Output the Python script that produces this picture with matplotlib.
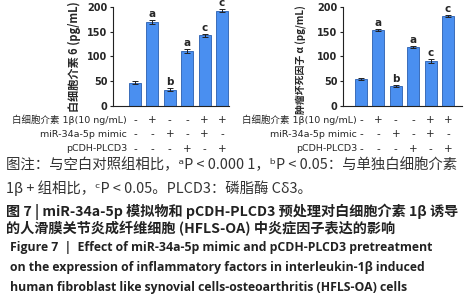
import matplotlib
matplotlib.use("Agg")
import matplotlib.pyplot as plt
from matplotlib.transforms import blended_transform_factory

plt.rcParams['font.family'] = ['Noto Sans CJK SC', 'DejaVu Sans']

# Data
il6 = [47, 170, 33, 111, 143, 192]
il6_err = [3, 4, 3, 4, 3, 3]
il6_sig = ['', 'a', 'b', 'a', 'c', 'c']
tnf = [55, 153, 41, 120, 90, 181]
tnf_err = [2, 2, 2, 2, 4, 2]
tnf_sig = ['', 'a', 'b', 'a', 'c', 'c']
yticks = [0, 50, 100, 150, 200]
row_labels = ['白细胞介素 1β(10 ng/mL)', 'miR-34a-5p mimic', 'pCDH-PLCD3']
row_signs = [
    ['-', '+', '-', '-', '+', '+'],
    ['-', '-', '+', '-', '+', '-'],
    ['-', '-', '-', '+', '-', '+'],
]
ylabels = ['白细胞介素 6 (pg/mL)', '肿瘤坏死因子 α (pg/mL)']
caption = [
    ('图注：与空白对照组相比，ᵃP < 0.000 1，ᵇP < 0.05：与单独白细胞介素', 'normal', 10.4),
    ('1β + 组相比，ᶜP < 0.05。PLCD3：磷脂酶 Cδ3。', 'normal', 10.4),
    ('图 7 | miR-34a-5p 模拟物和 pCDH-PLCD3 预处理对白细胞介素 1β 诱导', 'bold', 10.2),
    ('的人滑膜关节炎成纤维细胞 (HFLS-OA) 中炎症因子表达的影响', 'bold', 10.2),
]
caption_en = [
    'Figure 7  |  Effect of miR-34a-5p mimic and pCDH-PLCD3 pretreatment',
    'on the expression of inflammatory factors in interleukin-1β induced',
    'human fibroblast like synovial cells-osteoarthritis (HFLS-OA) cells',
]

W, H = 470, 300
fig = plt.figure(figsize=(W / 100, H / 100), dpi=100)
fig.patch.set_facecolor('white')

def px(x0, ytop, x1, ybot):
    return [x0 / W, 1 - ybot / H, (x1 - x0) / W, (ybot - ytop) / H]

panels = [
    (px(113, 7, 229, 106), il6, il6_err, il6_sig, ylabels[0], 8.0, 0.5, (-1.26, 5.4), 127),
    (px(343, 7, 462, 106), tnf, tnf_err, tnf_sig, ylabels[1], 7.1, 0.47, (-1.03, 5.8), 357),
]

bar_color = '#4a8ff0'
edge_color = '#2a5fb0'
txt_color = '#262626'
for rect, vals, errs, sigs, ylab, ylfs, ylpos, xl, lab_x in panels:
    ax = fig.add_axes(rect)
    x = list(range(len(vals)))
    ax.bar(x, vals, width=0.68, color=bar_color, edgecolor=edge_color, linewidth=0.6,
           yerr=errs, error_kw=dict(ecolor='#222222', elinewidth=0.7, capsize=2, capthick=0.7))
    for xi, v, e, s in zip(x, vals, errs, sigs):
        if s:
            ax.text(xi, v + e + 2, s, ha='center', va='bottom', fontsize=7.5, fontweight='bold',
                    family='DejaVu Sans', color=txt_color)
    ax.set_xlim(*xl)
    ax.set_ylim(0, 200)
    ax.set_yticks(yticks)
    ax.set_yticklabels([str(t) for t in yticks], fontsize=7, fontweight='bold',
                       family='DejaVu Sans', color=txt_color)
    ax.set_xticks([])
    for sp in ['top', 'right']:
        ax.spines[sp].set_visible(False)
    for sp in ['left', 'bottom']:
        ax.spines[sp].set_linewidth(0.8)
        ax.spines[sp].set_color('#222222')
    ax.tick_params(axis='y', length=2.5, width=0.8, pad=1.5, color='#222222')
    ax.set_ylabel(ylab, fontsize=ylfs, fontweight='bold', labelpad=2, color=txt_color)
    ax.yaxis.set_label_coords(-0.28 if ylfs > 7.5 else -0.30, ylpos)
    tr = blended_transform_factory(ax.transData, fig.transFigure)
    for r, (lab, signs) in enumerate(zip(row_labels, row_signs)):
        yf = 1 - (120 + r * 14.5) / H
        fig.text(lab_x / W, yf, lab, ha='right', va='center', fontsize=6.8, color=txt_color,
                 family=['DejaVu Sans', 'Noto Sans CJK SC'])
        for xi, s in zip(x, signs):
            ax.text(xi, yf, s, transform=tr, ha='center', va='center', fontsize=7.5,
                    color=txt_color, family='DejaVu Sans')

ys = [165, 188, 212, 229]
for (t, w, fs), y in zip(caption, ys):
    fig.text(6 / W, 1 - y / H, t, ha='left', va='center', fontsize=fs, fontweight=w,
             color='#333333' if w == 'normal' else '#222222')
ys_en = [248, 268, 287]
for t, y in zip(caption_en, ys_en):
    fig.text(10 / W, 1 - y / H, t, ha='left', va='center', fontsize=8.8, fontweight='bold',
             color='#222222', family=['Open Sans', 'DejaVu Sans'])

fig.savefig('out.png', dpi=100)
